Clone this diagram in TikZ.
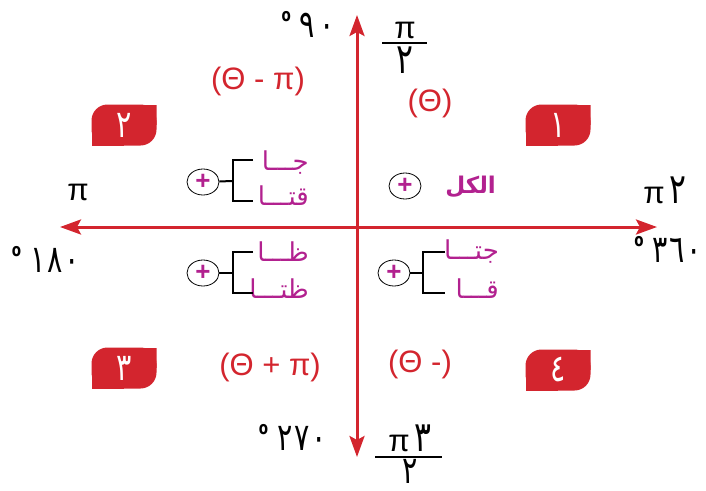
\documentclass[tikz,border=0pt]{standalone}
\usepackage{fontspec}
\setmainfont{Liberation Sans}
\newfontfamily\arabicfont[Script=Arabic]{DejaVu Sans}
\newfontfamily\digitfont[Script=Arabic, FakeStretch=0.75]{DejaVu Sans}
\TeXXeTstate=1
\usepackage{tikz}
\usetikzlibrary{arrows.meta, shapes.geometric}
\definecolor{axisred}{HTML}{D3252E}
\definecolor{labelmag}{HTML}{B2218F}
\tikzset{
  axis/.style={draw=axisred, line width=3pt, {Stealth[length=21pt, width=15pt, inset=4pt]}-{Stealth[length=21pt, width=15pt, inset=4pt]}},
  badge/.style={minimum width=65pt, minimum height=41pt, inner sep=0pt, text=white, font=\digitfont\fontsize{38}{38}\selectfont,
    path picture={
      \fill[axisred, rounded corners=16pt] (path picture bounding box.south west) rectangle (path picture bounding box.north east);
      \fill[axisred] (path picture bounding box.center) rectangle (path picture bounding box.north east);
      \fill[axisred] (path picture bounding box.center) rectangle (path picture bounding box.south west);
    }},
  angle/.style={font=\fontsize{31}{31}\selectfont, text=axisred, inner sep=0pt},
  deg/.style={font=\digitfont\fontsize{38}{38}\selectfont, inner sep=0pt},
  frac/.style={font=\fontsize{31}{31}\selectfont, inner sep=0pt},
  sign/.style={draw, ellipse, line width=0.8pt, minimum width=32pt, minimum height=26pt, inner sep=0pt, text=labelmag, font=\bfseries\fontsize{26}{26}\selectfont},
  ratio/.style={font=\arabicfont\fontsize{26}{26}\selectfont, text=labelmag, inner sep=0pt},
  bracket/.style={draw, line width=2pt},
}
\newcommand{\degsign}{\raisebox{0.42em}{\fontsize{18}{18}\selectfont\bfseries o}}
\newcommand{\ar}[1]{{\digitfont\fontsize{42}{42}\selectfont #1}}
\begin{document}
\begin{tikzpicture}[x=1pt, y=-1pt]
  \useasboundingbox (0,0) rectangle (706,490);
  % axes
  \coordinate (top) at (357,15);
  \coordinate (bottom) at (357,457);
  \coordinate (left) at (60,227);
  \coordinate (right) at (657,227);
  \draw[axis] (left) -- (right);
  \draw[axis] (top) -- (bottom);
  % angles on the axes
  \node[deg] (d90) at (308,24) {\degsign\ ٩\kern4pt٠};
  \node[frac] (n90) at (405,30) {π};
  \node[frac] (m90) at (405,60) {\ar{٢}};
  \draw[line width=1.5pt] (382,43) -- (427,43);
  \node[frac] (pi) at (78,192) {π};
  \node[frac] (twopi) at (665,190) {π\,\ar{٢}};
  \node[deg] (d180) at (46,259) {\degsign\ ١\kern2pt٨\kern2pt٠};
  \node[deg] (d360) at (668,249) {\degsign\ ٣\kern1pt٦\kern2pt٠};
  \node[deg] (d270) at (293,437) {\degsign\ ٢\kern2pt٧\kern2pt٠};
  \node[frac] (n270) at (410,438) {π\,\ar{٣}};
  \node[deg, text depth=0pt] (m270) at (410,471) {٢};
  \draw[line width=1.5pt] (375,457) -- (442,457);
  % quadrant angles
  \node[angle] (a2) at (258,81) {(Θ - π)};
  \node[angle] (a1) at (430,103) {(Θ)};
  \node[angle] (a3) at (270,367) {(Θ + π)};
  \node[angle] (a4) at (420,364) {(Θ -)};
  % quadrant numbers
  \node[badge] (q1) at (558,125) {\beginR ١\endR};
  \node[badge] (q2) at (124,125) {\beginR ٢\endR};
  \node[badge] (q3) at (124,368) {\beginR ٣\endR};
  \node[badge] (q4) at (558,370) {\beginR ٤\endR};
  % signs
  \node[sign] (s1) at (405,186) {+};
  \node[ratio, anchor=east, font=\arabicfont\bfseries\fontsize{23}{23}\selectfont] (all) at (496,187) {\beginR الكل\endR};
  \node[sign] (s2) at (203,182) {+};
  \node[ratio, anchor=east] (sin) at (309,163) {\beginR جـــا\endR};
  \node[ratio, anchor=east] (csc) at (309,196) {\beginR قتـــا\endR};
  \coordinate (k2) at (233,181);
  \draw[bracket] (s2) -- (k2);
  \draw[bracket] (253,160) -| (k2) |- (253,201);
  \node[sign] (s3) at (203,273) {+};
  \node[ratio, anchor=east] (tan) at (309,252) {\beginR ظـــا\endR};
  \node[ratio, anchor=east] (cot) at (309,289) {\beginR ظتـــا\endR};
  \coordinate (k3) at (233,273);
  \draw[bracket] (s3) -- (k3);
  \draw[bracket] (253,252) -| (k3) |- (253,293);
  \node[sign] (s4) at (394,273) {+};
  \node[ratio, anchor=east] (cos) at (499,252) {\beginR جتـــا\endR};
  \node[ratio, anchor=east] (sec) at (499,289) {\beginR قـــا\endR};
  \coordinate (k4) at (423,273);
  \draw[bracket] (s4) -- (k4);
  \draw[bracket] (445,252) -| (k4) |- (445,293);
\end{tikzpicture}
\end{document}
